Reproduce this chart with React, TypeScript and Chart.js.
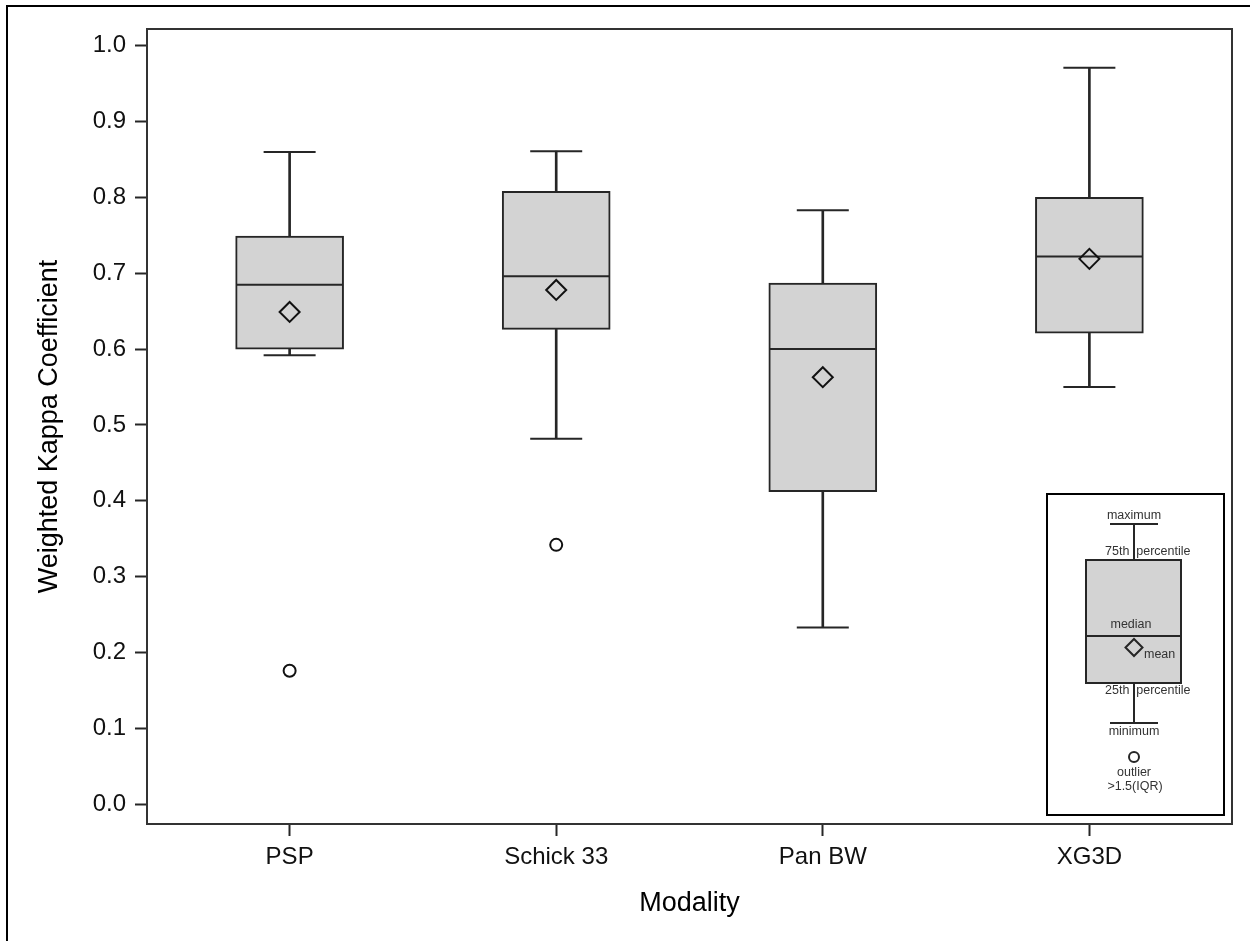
import React, { useEffect, useRef } from 'react';
import { Chart, registerables } from 'chart.js';

Chart.register(...registerables);

// ---- data ----
const categories = ['PSP', 'Schick 33', 'Pan BW', 'XG3D'];
const minimums = [0.592, 0.482, 0.233, 0.550];
const q1s = [0.600, 0.626, 0.412, 0.621];
const medians = [0.685, 0.696, 0.600, 0.722];
const q3s = [0.749, 0.808, 0.687, 0.800];
const maximums = [0.860, 0.861, 0.783, 0.971];
const means = [0.649, 0.678, 0.563, 0.719];
const outliers: number[][] = [[0.176], [0.342], [], []];
const yTickValues = [0, 0.1, 0.2, 0.3, 0.4, 0.5, 0.6, 0.7, 0.8, 0.9, 1.0];

const FONT = "'Liberation Sans', Arial, Helvetica, sans-serif";
const INK = '#262626';
const BOX_FILL = '#d3d3d3';

const framePlugin = {
  id: 'framePlugin',
  afterDraw(chart: any) {
    const { ctx, chartArea } = chart;
    const { left, right, top, bottom } = chartArea;
    ctx.save();
    // outer frame (top and left edges visible)
    ctx.strokeStyle = '#000';
    ctx.lineWidth = 2;
    ctx.beginPath();
    ctx.moveTo(7, 941);
    ctx.lineTo(7, 6);
    ctx.lineTo(1250, 6);
    ctx.stroke();
    // plot area border
    ctx.strokeStyle = '#333';
    ctx.lineWidth = 2;
    ctx.strokeRect(left, top, right - left, bottom - top);

    // ---- legend inset (schematic box) ----
    const cx = right - 98;
    const oy = bottom;
    ctx.fillStyle = '#fff';
    ctx.fillRect(cx - 87, oy - 330, 177, 321);
    ctx.strokeStyle = '#000';
    ctx.lineWidth = 2;
    ctx.strokeRect(cx - 87, oy - 330, 177, 321);

    ctx.strokeStyle = INK;
    ctx.lineWidth = 2;
    // whiskers
    ctx.beginPath();
    ctx.moveTo(cx, oy - 300); ctx.lineTo(cx, oy - 264);
    ctx.moveTo(cx, oy - 141); ctx.lineTo(cx, oy - 101);
    ctx.moveTo(cx - 24, oy - 300); ctx.lineTo(cx + 24, oy - 300);
    ctx.moveTo(cx - 24, oy - 101); ctx.lineTo(cx + 24, oy - 101);
    ctx.stroke();
    // box
    ctx.fillStyle = BOX_FILL;
    ctx.fillRect(cx - 48, oy - 264, 95, 123);
    ctx.strokeRect(cx - 48, oy - 264, 95, 123);
    // median
    ctx.beginPath();
    ctx.moveTo(cx - 48, oy - 188); ctx.lineTo(cx + 47, oy - 188);
    ctx.stroke();
    // mean diamond
    const dy = oy - 176.5;
    const r = 8.5;
    ctx.beginPath();
    ctx.moveTo(cx - r, dy); ctx.lineTo(cx, dy - r); ctx.lineTo(cx + r, dy); ctx.lineTo(cx, dy + r);
    ctx.closePath();
    ctx.stroke();
    // outlier circle
    ctx.beginPath();
    ctx.arc(cx, oy - 67, 5, 0, Math.PI * 2);
    ctx.fillStyle = '#fff';
    ctx.fill();
    ctx.stroke();

    // labels
    ctx.fillStyle = '#333';
    ctx.font = `12.5px ${FONT}`;
    ctx.textBaseline = 'middle';
    ctx.textAlign = 'center';
    ctx.fillText('maximum', cx, oy - 308);
    ctx.fillText('median', cx - 3, oy - 199);
    ctx.fillText('minimum', cx, oy - 92);
    ctx.fillText('outlier', cx, oy - 51);
    ctx.fillText('>1.5(IQR)', cx + 1, oy - 37);
    ctx.textAlign = 'left';
    ctx.fillText('75th  percentile', cx - 29, oy - 272);
    ctx.fillText('25th  percentile', cx - 29, oy - 133);
    ctx.fillText('mean', cx + 10, oy - 169);
    ctx.restore();
  },
};

const zeroPad = (s: any) => {
  s.paddingLeft = 0;
  s.paddingRight = 0;
  s.paddingTop = 0;
  s.paddingBottom = 0;
};

export default function App() {
  const ref = useRef<HTMLCanvasElement | null>(null);

  useEffect(() => {
    document.body.style.margin = '0';
    const canvas = ref.current;
    if (!canvas) return;

    const idx = categories.map((_, i) => i);
    const boxData = idx.map((i) => ({ x: i, y: [q1s[i], q3s[i]] }));
    const whiskerData = idx.flatMap((i) => [
      { x: i, y: [q3s[i], maximums[i]] },
      { x: i, y: [minimums[i], q1s[i]] },
    ]);
    const medianData = idx.map((i) => ({ x: i, y: medians[i] }));
    const capData = idx.flatMap((i) => [
      { x: i, y: maximums[i] },
      { x: i, y: minimums[i] },
    ]);
    const meanData = idx.map((i) => ({ x: i, y: means[i] }));
    const outlierData = idx.flatMap((i) => outliers[i].map((v) => ({ x: i, y: v })));

    const chart = new Chart(canvas, {
      type: 'bar',
      data: {
        datasets: [
          {
            type: 'bar',
            data: whiskerData as any,
            backgroundColor: INK,
            borderWidth: 0,
            barThickness: 2,
            grouped: false,
            order: 5,
          } as any,
          {
            type: 'bar',
            data: boxData as any,
            backgroundColor: BOX_FILL,
            borderColor: INK,
            borderWidth: 2,
            borderSkipped: false,
            barThickness: 108,
            grouped: false,
            order: 4,
          } as any,
          {
            type: 'scatter',
            data: medianData,
            pointStyle: 'line',
            pointRadius: 53,
            pointBorderWidth: 2,
            borderColor: INK,
            pointBorderColor: INK,
            order: 2,
          } as any,
          {
            type: 'scatter',
            data: capData,
            pointStyle: 'line',
            pointRadius: 26,
            pointBorderWidth: 2,
            borderColor: INK,
            pointBorderColor: INK,
            order: 2,
          } as any,
          {
            type: 'scatter',
            data: meanData,
            pointStyle: 'rectRot',
            pointRadius: 10,
            pointBorderWidth: 2,
            pointBorderColor: '#111',
            pointBackgroundColor: 'rgba(0,0,0,0)',
            order: 1,
          } as any,
          {
            type: 'scatter',
            data: outlierData,
            pointStyle: 'circle',
            pointRadius: 6,
            pointBorderWidth: 2,
            pointBorderColor: '#111',
            pointBackgroundColor: '#fff',
            order: 1,
          } as any,
        ],
      },
      options: {
        responsive: false,
        animation: false,
        events: [],
        devicePixelRatio: 1,
        layout: { autoPadding: false, padding: { left: 0, top: 29, right: 18, bottom: 0 } },
        plugins: {
          legend: { display: false },
          tooltip: { enabled: false },
          title: { display: false },
        },
        scales: {
          x: {
            type: 'linear',
            offset: false,
            min: -0.535,
            max: 3.535,
            afterFit: (s: any) => { s.height = 117; zeroPad(s); },
            afterBuildTicks: (s: any) => { s.ticks = idx.map((v) => ({ value: v })); },
            ticks: {
              callback: (v: any) => categories[Math.round(Number(v))] ?? '',
              color: '#111',
              font: { family: FONT, size: 24 },
              padding: 7,
              maxRotation: 0,
              autoSkip: false,
            },
            grid: {
              display: true,
              offset: false,
              drawOnChartArea: false,
              drawTicks: true,
              tickLength: 12,
              tickWidth: 2,
              tickColor: INK,
            },
            border: { display: false },
            title: {
              display: true,
              text: 'Modality',
              color: '#000',
              font: { family: FONT, size: 27 },
              padding: { top: 0, bottom: 21 },
            },
          },
          y: {
            type: 'linear',
            min: -0.026,
            max: 1.022,
            afterFit: (s: any) => { s.width = 147; zeroPad(s); },
            afterBuildTicks: (s: any) => { s.ticks = yTickValues.map((v) => ({ value: v })); },
            ticks: {
              callback: (v: any) => Number(v).toFixed(1),
              color: '#111',
              font: { family: FONT, size: 24 },
              padding: 9,
              autoSkip: false,
            },
            grid: {
              display: true,
              drawOnChartArea: false,
              drawTicks: true,
              tickLength: 12,
              tickWidth: 2,
              tickColor: INK,
            },
            border: { display: false },
            title: {
              display: true,
              text: 'Weighted Kappa Coefficient',
              color: '#000',
              font: { family: FONT, size: 27 },
              padding: { top: 33, bottom: 0 },
            },
          },
        },
      } as any,
      plugins: [framePlugin],
    });

    return () => chart.destroy();
  }, []);

  return (
    <canvas
      ref={ref}
      width={1250}
      height={941}
      style={{ display: 'block', width: 1250, height: 941, background: '#fff' }}
    />
  );
}
